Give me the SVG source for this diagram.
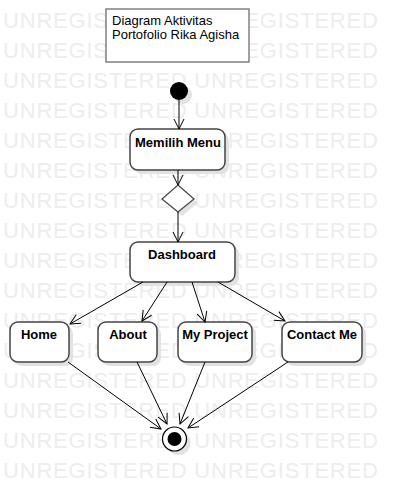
<svg xmlns="http://www.w3.org/2000/svg" width="401" height="491" viewBox="0 0 401 491">
<style>
.wm{font-family:"Liberation Sans",Arial,sans-serif;font-size:22px;fill:#ededed;letter-spacing:0.8px}
.node{fill:#ffffff;stroke:#444444;stroke-width:1.5}
.shadow{fill:#e2e2e2}
.lbl{font-family:"Liberation Sans",Arial,sans-serif;font-size:13px;font-weight:bold;fill:#000;text-anchor:middle}
.note{font-family:"Liberation Sans",Arial,sans-serif;font-size:13px;fill:#000}
.edge{stroke:#000;stroke-width:1;fill:none;marker-end:url(#arr)}
</style>
<defs>
<marker id="arr" markerUnits="userSpaceOnUse" markerWidth="12" markerHeight="12" refX="10" refY="5" orient="auto" viewBox="0 0 12 10" overflow="visible">
<path d="M0,0 L10,5 L0,10" fill="none" stroke="#000" stroke-width="1"/>
</marker>
</defs>
<rect width="401" height="491" fill="#ffffff"/>
<g id="watermark">
<text class="wm" x="3" y="28">UNREGISTERED UNREGISTERED</text>
<text class="wm" x="3" y="58">UNREGISTERED UNREGISTERED</text>
<text class="wm" x="3" y="88">UNREGISTERED UNREGISTERED</text>
<text class="wm" x="3" y="118">UNREGISTERED UNREGISTERED</text>
<text class="wm" x="3" y="148">UNREGISTERED UNREGISTERED</text>
<text class="wm" x="3" y="178">UNREGISTERED UNREGISTERED</text>
<text class="wm" x="3" y="208">UNREGISTERED UNREGISTERED</text>
<text class="wm" x="3" y="238">UNREGISTERED UNREGISTERED</text>
<text class="wm" x="3" y="268">UNREGISTERED UNREGISTERED</text>
<text class="wm" x="3" y="298">UNREGISTERED UNREGISTERED</text>
<text class="wm" x="3" y="328">UNREGISTERED UNREGISTERED</text>
<text class="wm" x="3" y="358">UNREGISTERED UNREGISTERED</text>
<text class="wm" x="3" y="388">UNREGISTERED UNREGISTERED</text>
<text class="wm" x="3" y="418">UNREGISTERED UNREGISTERED</text>
<text class="wm" x="3" y="448">UNREGISTERED UNREGISTERED</text>
<text class="wm" x="3" y="478">UNREGISTERED UNREGISTERED</text>
</g>
<g id="note">
<rect x="106" y="9" width="143" height="53" fill="#ffffff" stroke="#808080" stroke-width="1.5"/>
<text class="note" x="112" y="25">Diagram Aktivitas</text>
<text class="note" x="112" y="39">Portofolio Rika Agisha</text>
</g>
<g id="start">
<circle cx="183" cy="95" r="9" class="shadow"/>
<circle cx="179" cy="91" r="9" fill="#000"/>
</g>
<g id="memilih-menu">
<rect x="134" y="133" width="95" height="41" rx="8" class="shadow"/>
<rect x="130" y="129" width="95" height="41" rx="8" class="node"/>
<text class="lbl" x="178" y="147">Memilih Menu</text>
</g>
<g id="decision">
<polygon points="182,189 198,203 182,216 166,203" class="shadow"/>
<polygon points="178,185 194,199 178,212 162,199" fill="#fff" stroke="#444" stroke-width="1.2"/>
</g>
<g id="dashboard">
<rect x="134" y="246" width="105" height="40" rx="8" class="shadow"/>
<rect x="130" y="242" width="105" height="40" rx="8" class="node"/>
<text class="lbl" x="182" y="259">Dashboard</text>
</g>
<g id="home">
<rect x="14" y="326" width="59" height="40" rx="8" class="shadow"/>
<rect x="10" y="322" width="59" height="40" rx="8" class="node"/>
<text class="lbl" x="39" y="339">Home</text>
</g>
<g id="about">
<rect x="102" y="326" width="59" height="40" rx="8" class="shadow"/>
<rect x="98" y="322" width="59" height="40" rx="8" class="node"/>
<text class="lbl" x="128" y="339">About</text>
</g>
<g id="my-project">
<rect x="182" y="326" width="74" height="40" rx="8" class="shadow"/>
<rect x="178" y="322" width="74" height="40" rx="8" class="node"/>
<text class="lbl" x="215" y="339">My Project</text>
</g>
<g id="contact-me">
<rect x="286" y="326" width="80" height="40" rx="8" class="shadow"/>
<rect x="282" y="322" width="80" height="40" rx="8" class="node"/>
<text class="lbl" x="322" y="339">Contact Me</text>
</g>
<g id="end">
<circle cx="178.5" cy="443" r="12" class="shadow"/>
<circle cx="174.5" cy="439" r="12" fill="#fff" stroke="#000" stroke-width="1.2"/>
<circle cx="174.5" cy="439" r="7" fill="#000"/>
</g>
<g id="connectors">
<line class="edge" x1="179" y1="100" x2="179" y2="129"/>
<line class="edge" x1="178" y1="170" x2="178" y2="185"/>
<line class="edge" x1="178" y1="212" x2="178" y2="242"/>
<line class="edge" x1="143" y1="282" x2="70" y2="324"/>
<line class="edge" x1="167" y1="282" x2="142" y2="321"/>
<line class="edge" x1="192" y1="282" x2="205" y2="322"/>
<line class="edge" x1="218" y1="282" x2="285" y2="321"/>
<line class="edge" x1="68" y1="362" x2="161" y2="429"/>
<line class="edge" x1="137" y1="362" x2="167" y2="424"/>
<line class="edge" x1="205" y1="362" x2="180" y2="424"/>
<line class="edge" x1="288" y1="362" x2="188" y2="428"/>
</g>
</svg>
